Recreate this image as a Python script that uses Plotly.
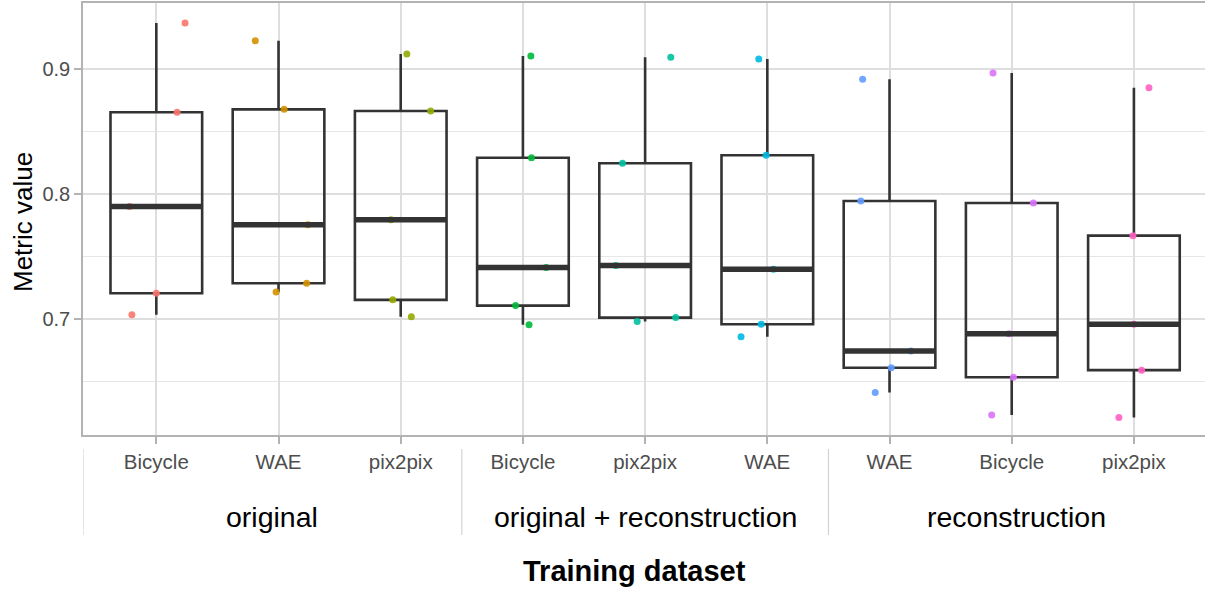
import numpy as np
import plotly.graph_objects as go

# ---- data ----
datasets = ["original", "original + reconstruction", "reconstruction"]
methods = ["Bicycle", "WAE", "pix2pix",
           "Bicycle", "pix2pix", "WAE",
           "WAE", "Bicycle", "pix2pix"]

original_bicycle = [0.9365, 0.8652, 0.7898, 0.7206, 0.7033]
original_wae = [0.9224, 0.8675, 0.7754, 0.7286, 0.7216]
original_pix2pix = [0.9117, 0.8662, 0.7794, 0.7153, 0.7017]
origrec_bicycle = [0.9101, 0.8289, 0.7411, 0.7107, 0.6953]
origrec_pix2pix = [0.9091, 0.8244, 0.7427, 0.7011, 0.6979]
origrec_wae = [0.9077, 0.8308, 0.7398, 0.6958, 0.6859]
recon_wae = [0.8915, 0.7943, 0.6745, 0.6610, 0.6412]
recon_bicycle = [0.8966, 0.7927, 0.6883, 0.6535, 0.6232]
recon_pix2pix = [0.8848, 0.7666, 0.6958, 0.6591, 0.6213]

# horizontal jitter of each point (category units)
jitter_original_bicycle = [0.235, 0.17, -0.22, 0.0, -0.2]
jitter_original_wae = [-0.19, 0.046, 0.24, 0.23, -0.02]
jitter_original_pix2pix = [0.05, 0.245, -0.08, -0.065, 0.087]
jitter_origrec_bicycle = [0.065, 0.07, 0.19, -0.06, 0.05]
jitter_origrec_pix2pix = [0.21, -0.185, -0.24, 0.25, -0.065]
jitter_origrec_wae = [-0.07, -0.01, 0.05, -0.05, -0.215]
jitter_recon_wae = [-0.22, -0.235, 0.175, 0.014, -0.117]
jitter_recon_bicycle = [-0.153, 0.177, -0.022, 0.014, -0.164]
jitter_recon_pix2pix = [0.123, -0.008, 0.0, 0.063, -0.123]

y_ticks = [0.7, 0.8, 0.9]
y_minor = [0.65, 0.75, 0.85]

values = [original_bicycle, original_wae, original_pix2pix,
          origrec_bicycle, origrec_pix2pix, origrec_wae,
          recon_wae, recon_bicycle, recon_pix2pix]
jitters = [jitter_original_bicycle, jitter_original_wae, jitter_original_pix2pix,
           jitter_origrec_bicycle, jitter_origrec_pix2pix, jitter_origrec_wae,
           jitter_recon_wae, jitter_recon_bicycle, jitter_recon_pix2pix]

colors = ["#F8766D", "#D39200", "#93AA00", "#00BA38", "#00C19F",
          "#00B9E3", "#619CFF", "#DB72FB", "#FF61C3"]

W, H = 1205, 593
L, R, T, B = 83, 0, 3, 158
PH = H - T - B
BOXW = 0.75
XR = [0.4, 0.4 + (W - L - R) / 122.2]


def py(px):
    """paper y for a pixel row below/inside the plot"""
    return (H - B - px) / PH


fig = go.Figure()
positions = list(range(1, len(values) + 1))

# jittered points (drawn first)
for pos, vals, jit, col in zip(positions, values, jitters, colors):
    fig.add_trace(go.Scatter(
        x=[pos + j for j in jit], y=vals, mode="markers",
        marker=dict(color=col, size=7, opacity=0.9, line=dict(width=0)),
        showlegend=False, hoverinfo="skip"))

# boxes
for pos, vals in zip(positions, values):
    fig.add_trace(go.Box(
        x=[pos] * len(vals), y=vals, width=BOXW,
        quartilemethod="inclusive", boxpoints=False,
        fillcolor="rgba(0,0,0,0)", whiskerwidth=0,
        line=dict(color="#333333", width=2.6),
        showlegend=False, hoverinfo="skip"))

# thick median lines (computed from data)
for pos, vals in zip(positions, values):
    m = float(np.median(vals))
    fig.add_trace(go.Scatter(
        x=[pos - BOXW / 2, pos + BOXW / 2], y=[m, m], mode="lines",
        line=dict(color="#333333", width=5.5),
        showlegend=False, hoverinfo="skip"))

# group separators & group labels
seps = [0.4, 3.5, 6.5]
for s in seps:
    fig.add_shape(type="line", xref="x", yref="paper",
                  x0=s, x1=s, y0=py(449), y1=py(535),
                  line=dict(color="#CCCCCC", width=1), layer="above")

grp_bounds = [0.4, 3.5, 6.5, XR[1]]
for gi, name in enumerate(datasets):
    cx = (grp_bounds[gi] + grp_bounds[gi + 1]) / 2
    fig.add_annotation(text=name, xref="x", yref="paper", x=cx, y=py(517),
                       xanchor="center", yanchor="middle", showarrow=False,
                       font=dict(size=28.5, color="#000000"))

fig.add_annotation(text="<b>Training dataset</b>", xref="paper", yref="paper",
                   x=(634 - L) / (W - L - R), y=py(571),
                   xanchor="center", yanchor="middle", showarrow=False,
                   font=dict(size=29, color="#000000"))

fig.add_annotation(text="Metric value", xref="paper", yref="paper",
                   x=(23 - L) / (W - L - R), y=py(222), textangle=-90,
                   xanchor="center", yanchor="middle", showarrow=False,
                   font=dict(size=26, color="#000000"))

fig.update_layout(
    width=W, height=H,
    margin=dict(l=L, r=R, t=T, b=B, pad=0),
    paper_bgcolor="white", plot_bgcolor="white",
    font=dict(family="Liberation Sans, Arial, sans-serif"),
    xaxis=dict(
        range=XR, tickmode="array", tickvals=positions, ticktext=methods,
        showgrid=True, gridcolor="#DEDEDE", gridwidth=1.5,
        showline=True, linecolor="#B3B3B3", linewidth=1.5, mirror=True,
        ticks="outside", ticklen=7, tickcolor="#B3B3B3", tickwidth=1.5,
        tickfont=dict(size=20.5, color="#4D4D4D"), ticklabelstandoff=1,
        zeroline=False),
    yaxis=dict(
        range=[0.6073, 0.9525], tickmode="array", tickvals=y_ticks,
        ticktext=[f"{v:.1f}" for v in y_ticks],
        showgrid=True, gridcolor="#DEDEDE", gridwidth=1.5,
        minor=dict(tickvals=y_minor, showgrid=True, gridcolor="#E6E6E6",
                   gridwidth=1, ticks=""),
        showline=True, linecolor="#B3B3B3", linewidth=1.5, mirror=False,
        ticks="outside", ticklen=7, tickcolor="#B3B3B3", tickwidth=1.5,
        tickfont=dict(size=20, color="#4D4D4D"), ticklabelstandoff=0,
        zeroline=False),
)

fig.write_html("out.html")
